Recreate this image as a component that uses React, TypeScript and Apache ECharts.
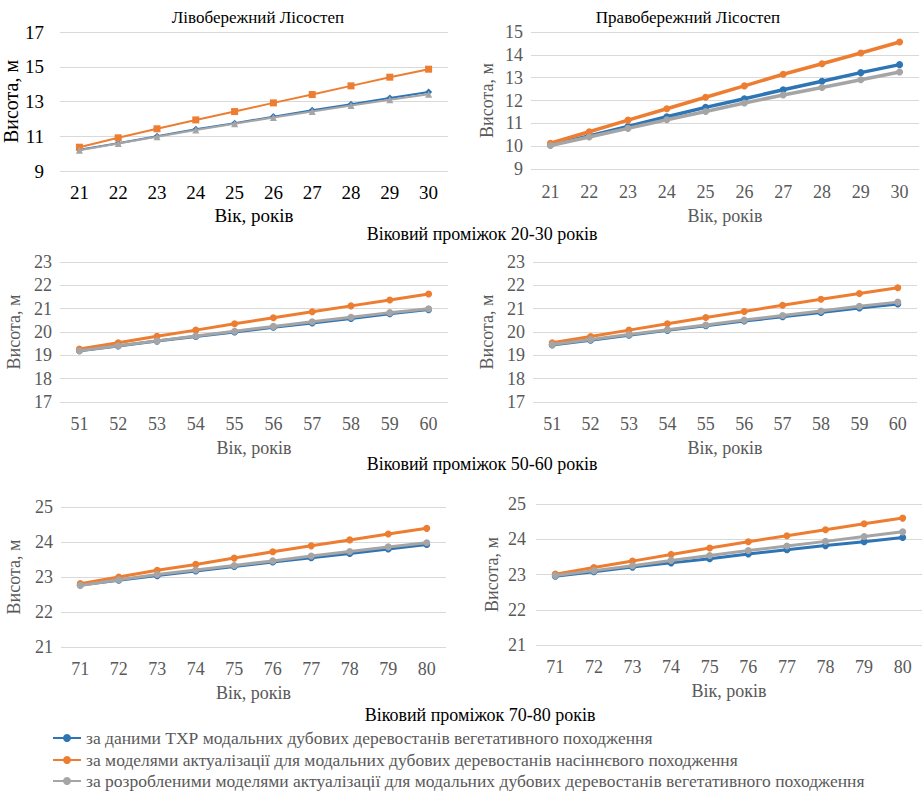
import React, { useEffect, useRef } from "react";
import * as echarts from "echarts";

const FONT = "Liberation Serif";
const GRAY_TEXT = "#595959";
const COLORS = ["#2E75B6", "#ED7D31", "#A5A5A5"];

const legendNames = [
  "за даними ТХР модальних дубових деревостанів вегетативного походження",
  "за моделями актуалізації для модальних дубових деревостанів насіннєвого походження",
  "за розробленими моделями актуалізації для модальних дубових деревостанів вегетативного походження",
];

const panelTitles = ["Лівобережний Лісостеп", "Правобережний Лісостеп"];
const groupTitles = [
  "Віковий проміжок 20-30 років",
  "Віковий проміжок 50-60 років",
  "Віковий проміжок 70-80 років",
];
const yName = "Висота, м";
const xName = "Вік, років";

const ages2030 = ["21", "22", "23", "24", "25", "26", "27", "28", "29", "30"];
const ages5060 = ["51", "52", "53", "54", "55", "56", "57", "58", "59", "60"];
const ages7080 = ["71", "72", "73", "74", "75", "76", "77", "78", "79", "80"];

// Panel 1: Лівобережний, 20-30
const p1Blue = [10.22, 10.6, 11.0, 11.4, 11.75, 12.13, 12.5, 12.84, 13.2, 13.55];
const p1Orange = [10.37, 10.91, 11.43, 11.94, 12.42, 12.92, 13.4, 13.9, 14.4, 14.86];
const p1Gray = [10.2, 10.58, 10.97, 11.36, 11.72, 12.08, 12.43, 12.77, 13.1, 13.42];
// Panel 2: Правобережний, 20-30
const p2Blue = [10.05, 10.45, 10.86, 11.29, 11.7, 12.08, 12.47, 12.84, 13.22, 13.57];
const p2Orange = [10.13, 10.63, 11.14, 11.64, 12.14, 12.64, 13.15, 13.61, 14.08, 14.56];
const p2Gray = [10.03, 10.4, 10.78, 11.16, 11.52, 11.89, 12.24, 12.57, 12.91, 13.25];
// Panel 3: Лівобережний, 50-60
const p3Blue = [19.2, 19.4, 19.61, 19.81, 20.0, 20.2, 20.39, 20.58, 20.78, 20.96];
const p3Orange = [19.27, 19.54, 19.82, 20.08, 20.35, 20.61, 20.87, 21.12, 21.37, 21.63];
const p3Gray = [19.2, 19.41, 19.62, 19.83, 20.03, 20.24, 20.44, 20.63, 20.83, 21.0];
// Panel 4: Правобережний, 50-60
const p4Blue = [19.44, 19.65, 19.86, 20.07, 20.27, 20.47, 20.65, 20.84, 21.03, 21.2];
const p4Orange = [19.54, 19.81, 20.08, 20.35, 20.62, 20.88, 21.15, 21.4, 21.65, 21.9];
const p4Gray = [19.46, 19.68, 19.89, 20.1, 20.3, 20.51, 20.71, 20.9, 21.1, 21.28];
// Panel 5: Лівобережний, 70-80
const p5Blue = [22.77, 22.91, 23.04, 23.17, 23.3, 23.43, 23.55, 23.67, 23.8, 23.93];
const p5Orange = [22.81, 23.0, 23.19, 23.36, 23.54, 23.72, 23.89, 24.06, 24.23, 24.39];
const p5Gray = [22.76, 22.92, 23.07, 23.2, 23.33, 23.46, 23.6, 23.73, 23.86, 23.98];
// Panel 6: Правобережний, 70-80
const p6Blue = [22.95, 23.08, 23.21, 23.33, 23.45, 23.58, 23.7, 23.82, 23.93, 24.05];
const p6Orange = [23.01, 23.2, 23.38, 23.57, 23.75, 23.93, 24.1, 24.27, 24.44, 24.6];
const p6Gray = [22.97, 23.11, 23.25, 23.4, 23.54, 23.68, 23.81, 23.94, 24.08, 24.21];

const yMin = [9, 9, 17, 17, 21, 21];
const yMax = [17, 15, 23, 23, 25, 25];
const yStep = [2, 1, 1, 1, 1, 1];

export default function App() {
  const ref = useRef<HTMLDivElement>(null);

  useEffect(() => {
    if (!ref.current) return;
    const chart = echarts.init(ref.current, undefined, { renderer: "svg" });

    const panels = [
      { cats: ages2030, data: [p1Blue, p1Orange, p1Gray] },
      { cats: ages2030, data: [p2Blue, p2Orange, p2Gray] },
      { cats: ages5060, data: [p3Blue, p3Orange, p3Gray] },
      { cats: ages5060, data: [p4Blue, p4Orange, p4Gray] },
      { cats: ages7080, data: [p5Blue, p5Orange, p5Gray] },
      { cats: ages7080, data: [p6Blue, p6Orange, p6Gray] },
    ];

    const grids = [
      { left: 60, top: 32, width: 388, height: 139 },
      { left: 531, top: 32, width: 388, height: 137 },
      { left: 60, top: 262, width: 388, height: 140 },
      { left: 533, top: 262, width: 384, height: 140 },
      { left: 61, top: 507, width: 385, height: 140 },
      { left: 536, top: 504, width: 386, height: 141 },
    ];
    const yLabelMargin = [16, 8, 8, 8, 8, 10];
    const xLabelMargin = [12, 14, 13, 13, 13, 13];
    const xNameGap = [35, 38, 37, 37, 37, 37];
    const yNameGap = [36, 35, 37, 37, 38, 35];

    const xAxis = panels.map((p, i) => ({
      type: "category",
      gridIndex: i,
      data: p.cats,
      boundaryGap: true,
      axisLine: { show: false },
      axisTick: { show: false },
      axisLabel: {
        margin: xLabelMargin[i],
        fontFamily: FONT,
        fontSize: i === 0 ? 19 : 18,
        color: i === 0 ? "#000" : GRAY_TEXT,
      },
      name: xName,
      nameLocation: "middle",
      nameGap: xNameGap[i],
      nameTextStyle: {
        fontFamily: FONT,
        fontSize: i === 0 ? 19 : 18,
        color: i === 0 ? "#000" : GRAY_TEXT,
      },
    }));

    const yAxis = panels.map((p, i) => ({
      type: "value",
      gridIndex: i,
      min: yMin[i],
      max: yMax[i],
      interval: yStep[i],
      axisLine: { show: false },
      axisTick: { show: false },
      splitLine: { lineStyle: { color: "#D9D9D9", width: 1 } },
      axisLabel: {
        margin: yLabelMargin[i],
        fontFamily: FONT,
        fontSize: i === 0 ? 19 : 18,
        color: i === 0 ? "#000" : GRAY_TEXT,
      },
      name: yName,
      nameLocation: "middle",
      nameGap: yNameGap[i],
      nameTextStyle: {
        fontFamily: FONT,
        fontSize: i === 0 ? 20 : 18,
        color: i === 0 ? "#000" : GRAY_TEXT,
      },
    }));

    const p1Symbols = ["diamond", "rect", "triangle"];
    const series: any[] = [];
    // panels 2..6 first so the legend uses circle markers
    const order = [1, 2, 3, 4, 5, 0];
    order.forEach((i) => {
      panels[i].data.forEach((vals, k) => {
        series.push({
          type: "line",
          name: legendNames[k],
          xAxisIndex: i,
          yAxisIndex: i,
          data: vals,
          symbol: i === 0 ? p1Symbols[k] : "circle",
          symbolSize: 7,
          showSymbol: true,
          lineStyle: { width: i === 0 ? 2 : i === 1 ? 3.5 : 3, color: COLORS[k] },
          itemStyle: { color: COLORS[k] },
          z: 2 + k,
        });
      });
    });

    const textStyleBase = { fontFamily: FONT, fill: "#000", textAlign: "center", textVerticalAlign: "middle" };

    const legendTops = [724, 746, 767];
    const legends = legendNames.map((n, k) => ({
      orient: "horizontal",
      left: 47,
      top: legendTops[k],
      itemWidth: 28,
      itemHeight: 10,
      itemGap: 4,
      data: [n],
      textStyle: { fontFamily: FONT, fontSize: 17.5, lineHeight: 16, color: GRAY_TEXT },
    }));

    chart.setOption({
      animation: false,
      backgroundColor: "#fff",
      textStyle: { fontFamily: FONT },
      grid: grids,
      xAxis,
      yAxis,
      series,
      legend: legends,
      graphic: [
        { type: "text", x: 258, y: 17, style: { ...textStyleBase, text: panelTitles[0], fontSize: 17 } },
        { type: "text", x: 688, y: 17, style: { ...textStyleBase, text: panelTitles[1], fontSize: 17 } },
        { type: "text", x: 482, y: 234, style: { ...textStyleBase, text: groupTitles[0], fontSize: 18 } },
        { type: "text", x: 482, y: 464, style: { ...textStyleBase, text: groupTitles[1], fontSize: 18 } },
        { type: "text", x: 480, y: 715, style: { ...textStyleBase, text: groupTitles[2], fontSize: 18 } },
      ],
    });

    return () => chart.dispose();
  }, []);

  return (
    <div
      ref={ref}
      style={{ position: "fixed", left: 0, top: 0, width: 922, height: 791, background: "#fff" }}
    />
  );
}
